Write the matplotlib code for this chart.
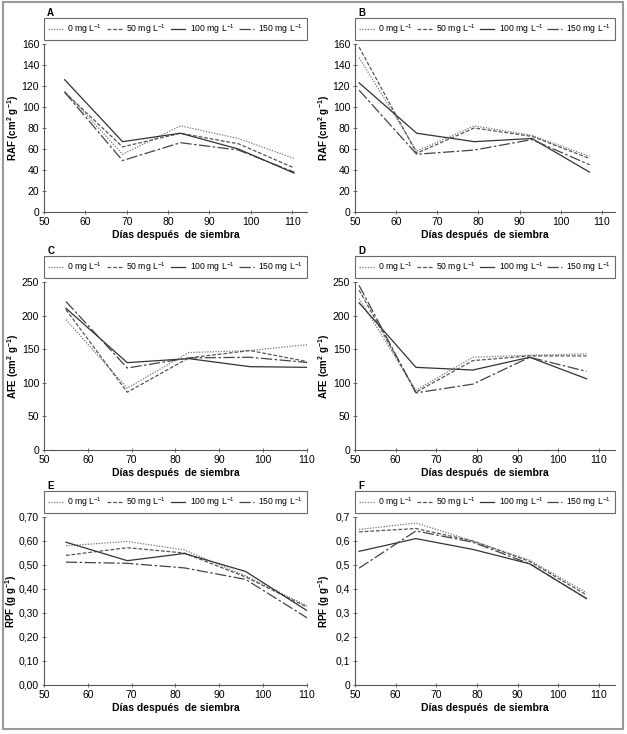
import numpy as np
import matplotlib
matplotlib.use('Agg')
import matplotlib.pyplot as plt
from matplotlib.patches import Rectangle

plt.rcParams['font.family'] = ['Liberation Sans Narrow', 'Liberation Sans', 'DejaVu Sans']
plt.rcParams['mathtext.default'] = 'regular'

# treatments
doses = ['0', '50', '100', '150']
labels = [f'{d} mg L$^{{-1}}$' for d in doses]

# sampling days
days_left = [55, 69, 83, 97, 110.5]
days_right = [51, 65, 79, 93, 107]
days_e = [55, 69, 82, 96, 110]

# A - RAF, first cycle
raf_a_0 = [115, 55, 82, 70, 51]
raf_a_50 = [114, 62, 75, 65, 42]
raf_a_100 = [126, 67, 75, 60, 37]
raf_a_150 = [114, 49, 66, 59, 38]

# B - RAF, second cycle
raf_b_0 = [147, 58, 82, 73, 53]
raf_b_50 = [157, 56, 80, 72, 51]
raf_b_100 = [123, 75, 67, 70, 38]
raf_b_150 = [116, 55, 59, 69, 45]

# C - AFE, first cycle
afe_c_0 = [194, 92, 145, 148, 157]
afe_c_50 = [209, 86, 137, 148, 131]
afe_c_100 = [211, 130, 136, 124, 123]
afe_c_150 = [221, 122, 137, 138, 130]

# D - AFE, second cycle
afe_d_0 = [225, 89, 138, 141, 143]
afe_d_50 = [238, 86, 133, 140, 140]
afe_d_100 = [219, 123, 119, 138, 106]
afe_d_150 = [245, 85, 98, 138, 117]

# E - RPF, first cycle
rpf_e_0 = [0.580, 0.598, 0.563, 0.455, 0.330]
rpf_e_50 = [0.540, 0.572, 0.550, 0.450, 0.325]
rpf_e_100 = [0.595, 0.518, 0.548, 0.473, 0.310]
rpf_e_150 = [0.512, 0.507, 0.488, 0.440, 0.280]

# F - RPF, second cycle
rpf_f_0 = [0.648, 0.675, 0.600, 0.520, 0.385]
rpf_f_50 = [0.638, 0.652, 0.600, 0.515, 0.375]
rpf_f_100 = [0.557, 0.610, 0.565, 0.505, 0.360]
rpf_f_150 = [0.487, 0.642, 0.595, 0.505, 0.360]

styles = [
    dict(color='#777777', ls=(0, (1, 1.2)), lw=0.9),
    dict(color='#555555', ls=(0, (3, 1.5)), lw=0.9),
    dict(color='#333333', ls='-', lw=0.9),
    dict(color='#444444', ls=(0, (9, 2, 2, 2)), lw=0.9),
]

panels = [
    ('A', days_left, [raf_a_0, raf_a_50, raf_a_100, raf_a_150], 'RAF (cm$^{2}$ g$^{-1}$)',
     (50, 113.6), (0, 160), np.arange(0, 161, 20), None),
    ('B', days_right, [raf_b_0, raf_b_50, raf_b_100, raf_b_150], 'RAF (cm$^{2}$ g$^{-1}$)',
     (50, 113.2), (0, 160), np.arange(0, 161, 20), None),
    ('C', days_left, [afe_c_0, afe_c_50, afe_c_100, afe_c_150], 'AFE (cm$^{2}$ g$^{-1}$)',
     (50, 110), (0, 250), np.arange(0, 251, 50), None),
    ('D', days_right, [afe_d_0, afe_d_50, afe_d_100, afe_d_150], 'AFE (cm$^{2}$ g$^{-1}$)',
     (50, 114), (0, 250), np.arange(0, 251, 50), None),
    ('E', days_e, [rpf_e_0, rpf_e_50, rpf_e_100, rpf_e_150], 'RPF (g g$^{-1}$)',
     (50, 110), (0, 0.7), np.arange(0, 0.71, 0.1),
     ['0,00', '0,10', '0,20', '0,30', '0,40', '0,50', '0,60', '0,70']),
    ('F', days_right, [rpf_f_0, rpf_f_50, rpf_f_100, rpf_f_150], 'RPF (g g$^{-1}$)',
     (50, 114), (0, 0.7), np.arange(0, 0.71, 0.1),
     ['0', '0,1', '0,2', '0,3', '0,4', '0,5', '0,6', '0,7']),
]

W, H = 627, 734
fig = plt.figure(figsize=(W / 100, H / 100), dpi=100)

lefts = [44, 355]
widths = [263, 260]
tops = [44, 282, 517]
height = 168

for i, (name, x, series, ylab, xlim, ylim, yt, ytl) in enumerate(panels):
    col, row = i % 2, i // 2
    ax = fig.add_axes([lefts[col] / W, 1 - (tops[row] + height) / H,
                       widths[col] / W, height / H])
    for y, lab, st in zip(series, labels, styles):
        ax.plot(x, y, label=lab, **st)
    ax.set_xlim(*xlim)
    ax.set_ylim(*ylim)
    ax.set_xticks(np.arange(50, 111, 10))
    ax.set_yticks(yt)
    if ytl is not None:
        ax.set_yticklabels(ytl)
    for s in ['top', 'right']:
        ax.spines[s].set_visible(False)
    for s in ['left', 'bottom']:
        ax.spines[s].set_color('#555555')
        ax.spines[s].set_linewidth(0.8)
    ax.tick_params(axis='both', labelsize=7.5, length=3, width=0.6,
                   color='#555555', direction='inout', pad=2)
    ax.set_xlabel('Días después  de siembra', fontsize=7.5, fontweight='bold', labelpad=2)
    ax.set_ylabel(ylab, fontsize=7, fontweight='bold')
    shift = 25 if name == 'E' else 23
    ax.yaxis.set_label_coords(-shift / widths[col], 0.5)
    ax.text(0.012, 1 + 26 / height, name, transform=ax.transAxes, fontsize=7,
            fontweight='bold', va='bottom')
    leg = ax.legend(loc='lower left', bbox_to_anchor=(0, 1 + 4 / height, 1, 0.1),
                    mode='expand', ncol=4, fontsize=6.2, frameon=True, fancybox=False,
                    handlelength=1.7, handletextpad=0.5, columnspacing=0.8,
                    borderpad=0.5, borderaxespad=0)
    leg.get_frame().set_edgecolor('#444444')
    leg.get_frame().set_linewidth(0.8)

fig.patches.append(Rectangle((3 / W, 1 - 729 / H), 620 / W, 727 / H,
                             transform=fig.transFigure, fill=False,
                             edgecolor='#999999', linewidth=1.5))

fig.savefig('out.png', dpi=100)
